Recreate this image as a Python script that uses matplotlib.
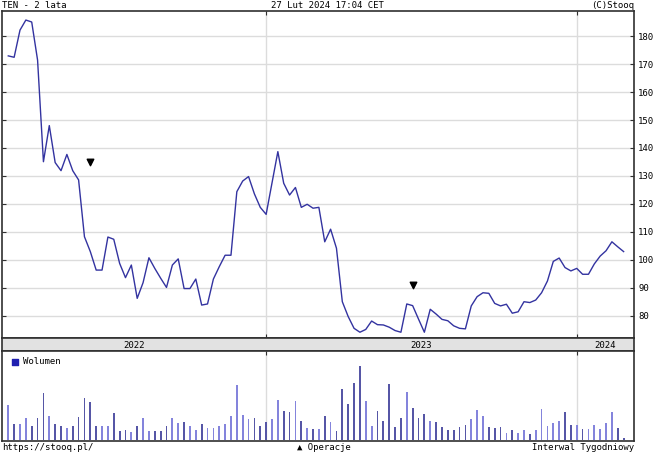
import matplotlib
matplotlib.use("Agg")
import matplotlib.pyplot as plt
import numpy as np

# weekly close, TEN, last 2 years
price = [172.9, 172.4, 182.1, 185.7, 185.0, 171.4, 135.1, 148.0, 134.8, 131.9,
         137.7, 131.9, 128.6, 108.3, 103.0, 96.4, 96.4, 108.2, 107.4, 98.8,
         93.7, 98.2, 86.3, 91.9, 100.8, 97.0, 93.5, 90.2, 98.2, 100.4,
         89.8, 89.8, 93.2, 83.9, 84.3, 93.2, 97.6, 101.7, 101.7, 124.4,
         128.2, 129.8, 123.6, 118.8, 116.3, 127.5, 138.7, 127.4, 123.2, 125.9,
         118.8, 119.9, 118.5, 118.8, 106.5, 111.0, 104.2, 85.1, 79.8, 75.6,
         74.2, 75.2, 78.2, 76.9, 76.8, 76.0, 74.8, 74.2, 84.3, 83.7,
         78.9, 74.2, 82.4, 80.7, 78.8, 78.3, 76.5, 75.6, 75.4, 83.6,
         86.9, 88.3, 88.1, 84.5, 83.6, 84.2, 81.0, 81.5, 85.1, 84.8,
         85.7, 88.3, 92.5, 99.5, 100.7, 97.3, 96.1, 97.0, 94.9, 94.9,
         98.6, 101.4, 103.3, 106.5, 104.7, 103.0]

# weekly volume (relative units)
volume = [104, 49, 49, 65, 41, 65, 142, 73, 48, 42,
          35, 41, 70, 127, 115, 41, 43, 41, 80, 28,
          31, 23, 41, 65, 26, 26, 26, 41, 67, 50,
          53, 41, 31, 49, 35, 35, 41, 49, 72, 165,
          74, 63, 65, 42, 53, 62, 121, 88, 83, 117,
          57, 35, 33, 33, 72, 53, 28, 152, 107, 172,
          222, 117, 42, 86, 58, 167, 38, 65, 144, 97,
          65, 77, 56, 55, 40, 29, 31, 39, 45, 62,
          90, 73, 38, 35, 38, 22, 31, 22, 30, 19,
          31, 94, 42, 50, 58, 85, 45, 45, 34, 32,
          45, 34, 50, 84, 36, 7]

# corporate events (Operacje)
event_week = [14, 69]
event_level = [135.0, 91.0]

year_labels = ['2022', '2023', '2024']
year_start = [44, 97]
yticks = list(range(80, 181, 10))

W, H = 655, 454
mono = ['DejaVu Sans Mono', 'DejaVu Sans']
plt.rcParams['font.family'] = mono
fs = 6.5
line_col = '#3333a0'
grid_col = '#dcdcdc'
frame_col = '#303030'

weeks = np.arange(len(price))
xlim = (-1.07, 106.77)

fig = plt.figure(figsize=(W / 100, H / 100), dpi=100)
fig.patch.set_facecolor('white')

def box(x0, y0, x1, y1):
    return [x0 / W, 1 - y1 / H, (x1 - x0) / W, (y1 - y0) / H]

ax = fig.add_axes(box(2, 11, 634, 338))
strip = fig.add_axes(box(2, 338, 634, 351))
axv = fig.add_axes(box(2, 351, 634, 441))

# price panel
ax.plot(weeks, price, color=line_col, lw=1.0, zorder=3)
ax.scatter(event_week, event_level, marker='v', s=22, color='black', zorder=4)
ax.set_xlim(*xlim)
ax.set_ylim(72.14, 188.93)
ax.set_yticks(yticks)
ax.set_yticklabels([str(t) for t in yticks])
ax.set_xticks(year_start)
ax.grid(True, color=grid_col, lw=1.0, zorder=0)
ax.tick_params(axis='y', direction='in', length=3, left=True, right=True,
               labelleft=False, labelright=True, labelsize=fs, pad=3,
               color=frame_col, width=0.8)
ax.tick_params(axis='x', direction='in', length=3, top=True, bottom=True,
               labelbottom=False, color=frame_col, width=0.8)
for s in ax.spines.values():
    s.set_color(frame_col)
    s.set_linewidth(1.2)

# date strip
strip.set_facecolor('#e2e2e2')
strip.set_xlim(*xlim)
strip.set_ylim(0, 1)
strip.set_xticks([])
strip.set_yticks([])
edges = [xlim[0]] + year_start + [xlim[1]]
for lab, a, b in zip(year_labels, edges[:-1], edges[1:]):
    strip.text((a + b) / 2, 0.45, lab, ha='center', va='center', fontsize=fs)
for s in strip.spines.values():
    s.set_color(frame_col)
    s.set_linewidth(1.2)

# volume panel
up = [True] + [price[i] >= price[i - 1] for i in range(1, len(price))]
bar_cols = ['#8484dc' if u else '#5656a6' for u in up]
axv.bar(weeks, volume, width=0.3, color=bar_cols, zorder=3)
axv.set_xlim(*xlim)
axv.set_ylim(-3, 267)
axv.set_xticks(year_start)
axv.set_yticks([])
axv.grid(True, axis='x', color=grid_col, lw=1.0, zorder=0)
axv.tick_params(axis='x', direction='in', length=3, top=True, bottom=False,
                labelbottom=False, color=frame_col, width=0.8)
for s in axv.spines.values():
    s.set_color(frame_col)
    s.set_linewidth(1.2)
axv.scatter([0.02], [0.88], marker='s', s=14, color='#2020b0',
            transform=axv.transAxes, clip_on=False, zorder=5)
axv.text(0.033, 0.88, 'Wolumen', transform=axv.transAxes, ha='left',
         va='center', fontsize=fs)

# header / footer
fig.text(2 / W, 1 - 5 / H, 'TEN - 2 lata', ha='left', va='center', fontsize=fs)
fig.text(327 / W, 1 - 5 / H, '27 Lut 2024 17:04 CET', ha='center', va='center', fontsize=fs)
fig.text(634 / W, 1 - 5 / H, '(C)Stooq', ha='right', va='center', fontsize=fs)
fig.text(2 / W, 1 - 447 / H, 'https://stooq.pl/', ha='left', va='center', fontsize=fs)
fig.text(297 / W, 1 - 447 / H, '▲ Operacje', ha='left', va='center', fontsize=fs)
fig.text(634 / W, 1 - 447 / H, 'Interwal Tygodniowy', ha='right', va='center', fontsize=fs)

fig.savefig('out.png', dpi=100, facecolor='white')
